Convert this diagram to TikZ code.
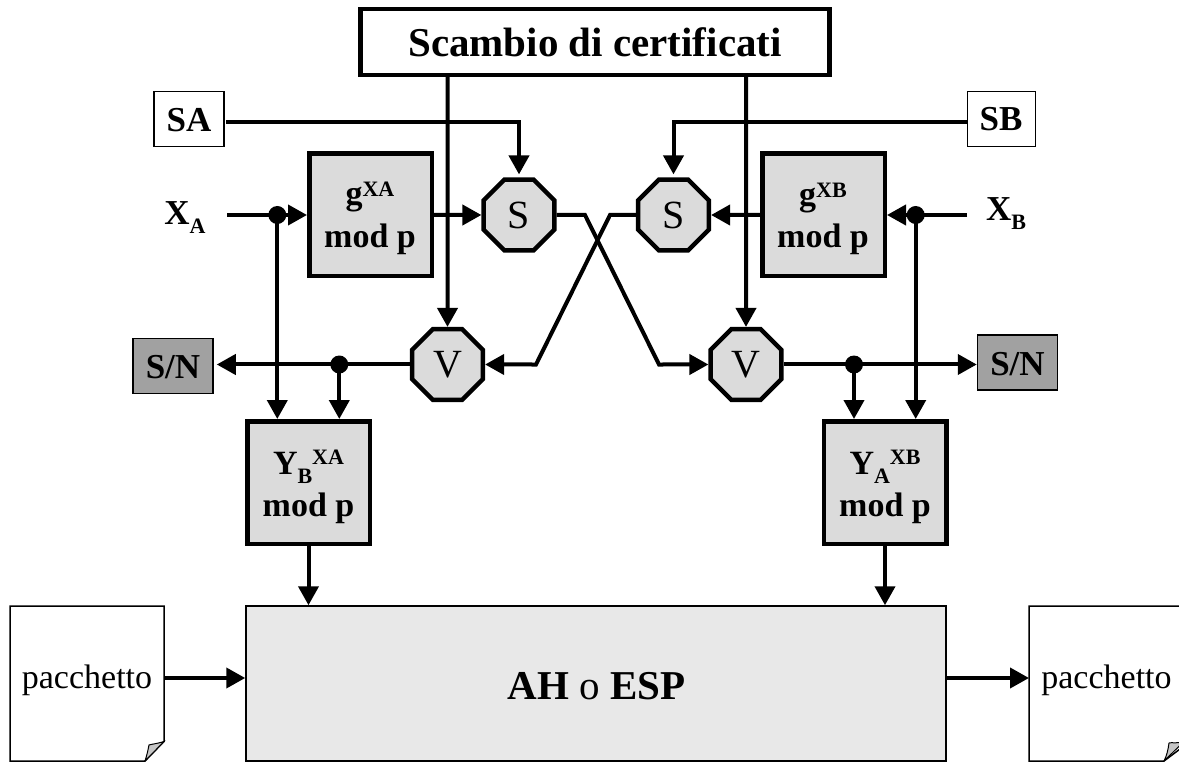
\documentclass[tikz,border=0pt]{standalone}
\usepackage{fontspec}
\setmainfont{Liberation Serif}
\usetikzlibrary{arrows.meta,shapes.geometric}
\definecolor{boxgray}{gray}{0.86}
\definecolor{sngray}{gray}{0.63}
\definecolor{mainlt}{gray}{0.91}
\newcommand{\fs}[1]{\fontsize{#1pt}{\dimexpr #1pt*6/5\relax}\selectfont}
\tikzset{
 x=1pt,y=-1pt,
 conn/.style={line width=4pt,-{Triangle[length=19pt,width=20pt]}},
 plainconn/.style={line width=4pt},
 dotjunction/.style={circle,fill=black,inner sep=0,minimum size=18pt},
 procbox/.style={draw,line width=4.5pt,fill=boxgray,inner sep=0,minimum width=122.5pt,minimum height=122.5pt},
 proclabel/.style={inner sep=0,align=center,anchor=base,font=\fs{34}\bfseries},
 octa/.style={draw,line width=4.5pt,fill=boxgray,regular polygon,regular polygon sides=8,inner sep=0,minimum size=76.5pt,font=\fs{40}},
 snbox/.style={draw,line width=1.5pt,fill=sngray,inner sep=0,minimum width=80pt,minimum height=55pt},
 keybox/.style={draw,line width=1.5pt,fill=white,inner sep=0,minimum height=55pt},
 plainlabel/.style={inner sep=0,anchor=base,font=\fs{35}\bfseries},
 pagelabel/.style={inner sep=0,anchor=base,font=\fs{34}},
 pageedge/.style={draw=black,line width=1.5pt,fill=white},
 curl/.style={draw=black,line width=1pt,fill=gray!45},
}
\newcommand{\lowr}[1]{\raisebox{-9pt}{\fs{22}\bfseries #1}}
\newcommand{\upr}[2]{\raisebox{#1pt}{\fs{22}\bfseries #2}}
\begin{document}
\begin{tikzpicture}
\useasboundingbox (0,0) rectangle (1179,762);
\clip (0,0) rectangle (1179,762);
\fill[white] (0,0) rectangle (1179,762);

% page shapes
\path[pageedge] (10,606) -- (164,606) -- (164,741.5) -- (145,761) -- (10,761) -- cycle;
\path[curl] (164,741.5) .. controls (156,744) and (152,744) .. (149,745) .. controls (148,750) and (147,755) .. (145,761) -- cycle;
\path[pageedge] (1029,606) -- (1190,606) -- (1190,741.5) -- (1164,761) -- (1029,761) -- cycle;
\path[curl] (1184,741.5) .. controls (1176,744) and (1172,742) .. (1169,743) .. controls (1168,750) and (1167,755) .. (1164,761) -- cycle;
\node[pagelabel] (pl) at (87,688) {pacchetto};
\node[pagelabel] (pr) at (1106.5,688) {pacchetto};
\coordinate (pagelr) at (164,678);
\coordinate (pagerl) at (1029,678);

% main boxes
\node[draw,line width=1.5pt,fill=mainlt,inner sep=0,minimum width=700pt,minimum height=155pt] (ah) at (596,683.5) {};
\node[inner sep=0,anchor=base,font=\fs{41}] (ahlabel) at (596.5,699) {\textbf{AH} o \textbf{ESP}};
\node[draw,line width=4.5pt,fill=white,inner sep=0,minimum width=469pt,minimum height=66pt,font=\fs{41}\bfseries] (top) at (595,42) {Scambio di certificati};

\node[keybox,minimum width=70pt] (sa) at (189,119) {};
\node[keybox,minimum width=68pt] (sb) at (1001.5,119) {};
\node[inner sep=0,anchor=base,font=\fs{35}\bfseries] (salabel) at (189,132) {SA};
\node[inner sep=0,anchor=base,font=\fs{35}\bfseries] (sblabel) at (1001,131) {SB};
\coordinate (sae) at (226,122);
\coordinate (sbw) at (967,122);

\node[procbox] (ga) at (370.5,215) {};
\node[procbox] (gb) at (823.5,215) {};
\node[procbox] (ya) at (308.5,482.5) {};
\node[procbox] (yb) at (885,482.5) {};
\node[proclabel] (galabel) at (370,247.5) {g\upr{8}{XA}\\[2pt]mod p};
\node[proclabel] (gblabel) at (823,248) {g\upr{8}{XB}\\[2pt]mod p};
\node[proclabel] (yalabel) at (308.5,516) {Y\lowr{B}\upr{10}{XA}\\[1pt]mod p};
\node[proclabel] (yblabel) at (885,516) {Y\lowr{A}\upr{10}{XB}\\[1pt]mod p};

\node[octa] (sl) at (519,215) {S};
\node[octa] (sr) at (673.5,215) {S};
\node[octa] (vl) at (447.5,364.5) {V};
\node[octa] (vr) at (746,364.5) {V};

\node[snbox] (snl) at (173,366) {};
\node[snbox] (snr) at (1017.5,362.5) {};
\node[inner sep=0,anchor=base,font=\fs{35}\bfseries] (snllabel) at (173,378) {S/N};
\node[inner sep=0,anchor=base,font=\fs{35}\bfseries] (snrlabel) at (1017.5,375) {S/N};

\node[plainlabel] (xa) at (185,225) {X\lowr{A}};
\node[plainlabel] (xb) at (1006,221) {X\lowr{B}};
\coordinate (xas) at (227,215);
\coordinate (xbs) at (967,215);

% junctions
\node[dotjunction] (ja) at (277.3,215) {};
\node[dotjunction] (jb) at (915.7,215) {};
\node[dotjunction] (jl) at (339.3,364.5) {};
\node[dotjunction] (jr) at (854,364.5) {};

% crossing bends
\coordinate (c1) at (585,215);
\coordinate (c2) at (659,364.5);
\coordinate (c3) at (610,215);
\coordinate (c4) at (536,364.5);

% connectors
\draw[conn,shorten >=3pt] (sae) -| (sl.north);
\draw[conn,shorten >=3pt] (sbw) -| (sr.north);
\draw[conn] (top.south -| vl) -- (vl.north);
\draw[conn] (top.south -| vr) -- (vr.north);
\draw[plainconn] (xas) -- (ja.center);
\draw[conn] (ja.center) -- (ga.west);
\draw[plainconn] (xbs) -- (jb.center);
\draw[conn] (jb.center) -- (gb.east);
\draw[conn] (ga.east) -- (sl.west);
\draw[conn] (gb.west) -- (sr.east);
\draw[conn] (sl.east) -- (c1) -- (c2) -- (vr.west);
\draw[conn] (sr.west) -- (c3) -- (c4) -- (vl.east);
\draw[conn,shorten >=3pt] (vl.west) -- (vl.west -| snl.east);
\draw[conn] (vr.east) -- (vr.east -| snr.west);
\draw[conn] (ja.center) -- (ja.center |- ya.north);
\draw[conn] (jb.center) -- (jb.center |- yb.north);
\draw[conn] (jl.center) -- (jl.center |- ya.north);
\draw[conn] (jr.center) -- (jr.center |- yb.north);
\draw[conn] (ya.south) -- (ya.south |- ah.north);
\draw[conn] (yb.south) -- (yb.south |- ah.north);
\draw[conn] (pagelr) -- (pagelr -| ah.west);
\draw[conn] (pagelr -| ah.east) -- (pagerl);
\end{tikzpicture}
\end{document}
